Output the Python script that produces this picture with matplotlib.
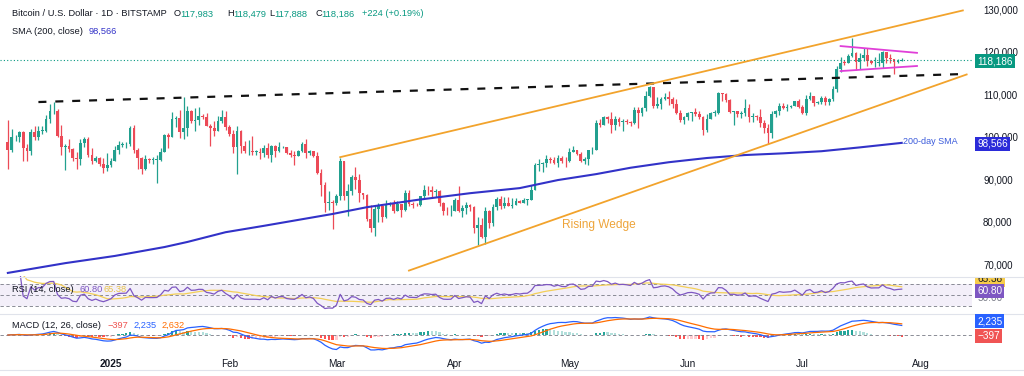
import numpy as np
import pandas as pd
import matplotlib
matplotlib.use("Agg")
import matplotlib.pyplot as plt
import matplotlib.dates as mdates
from matplotlib.lines import Line2D

plt.rcParams['font.family'] = ['Liberation Sans', 'DejaVu Sans']

# BTC/USD daily candles (Bitstamp), thousands of USD, 5 Dec 2024 .. 27 Jul 2025
dates = pd.date_range("2024-12-05", "2025-07-27", freq="D")
first_open_k = 98.8

close_k = [
    # Dec
    97.0, 99.9, 99.9, 101.2, 97.4, 96.6, 101.1, 100.0, 101.4, 101.4, 104.3, 106.0, 106.1, 100.2,
    97.5, 97.8, 97.2, 95.1, 94.7, 98.6, 99.4, 95.8, 94.2, 95.1, 93.6, 92.6, 93.4,
    # Jan
    94.4, 96.9, 98.1, 98.2, 98.3, 102.1, 96.9, 95.0, 92.5, 94.7, 94.5, 94.5, 94.6, 96.5, 100.5,
    99.9, 104.1, 104.4, 101.1, 102.0, 106.1, 103.7, 103.9, 104.8, 104.7, 102.6, 102.1, 101.3,
    103.7, 104.7, 102.4,
    # Feb
    100.6, 97.7, 101.4, 97.9, 96.6, 96.6, 96.5, 96.5, 96.2, 97.4, 95.7, 97.9, 96.6, 97.5, 97.6,
    96.1, 95.7, 95.5, 96.6, 98.3, 96.1, 96.6, 95.5, 91.4, 88.7, 84.4, 84.7, 84.4,
    # Mar
    86.0, 94.3, 86.1, 87.2, 90.6, 89.9, 86.8, 86.2, 80.7, 78.5, 82.9, 83.7, 81.1, 84.0, 84.3,
    82.6, 84.1, 82.7, 86.8, 84.2, 84.0, 83.8, 86.1, 87.5, 87.4, 86.9, 87.2, 84.3, 82.6, 82.4, 82.5,
    # Apr
    85.2, 82.5, 83.1, 83.8, 83.5, 78.4, 79.2, 76.3, 82.6, 79.6, 83.4, 85.3, 83.7, 84.5, 83.7,
    84.0, 84.9, 84.5, 85.1, 85.2, 87.5, 93.4, 93.7, 93.9, 94.7, 94.6, 93.8, 95.0, 94.3, 94.2,
    # May
    96.5, 96.9, 95.9, 94.3, 94.7, 96.8, 97.0, 103.2, 102.9, 104.6, 104.1, 102.8, 104.2, 103.5,
    103.7, 103.5, 103.2, 106.4, 105.5, 106.8, 109.7, 111.7, 107.3, 107.8, 109.0, 109.4, 108.9,
    107.8, 105.6, 103.9, 104.6,
    # Jun
    105.6, 105.8, 105.4, 104.7, 101.5, 104.3, 105.6, 105.7, 110.3, 110.2, 108.7, 105.9, 106.0,
    105.4, 105.5, 106.8, 104.6, 104.9, 104.7, 103.3, 102.1, 100.9, 105.4, 106.0, 107.3, 106.9,
    107.1, 107.3, 108.4, 107.1,
    # Jul
    105.7, 108.8, 109.6, 107.9, 108.2, 109.2, 108.2, 108.9, 111.3, 115.9, 117.5, 117.4, 119.1,
    119.8, 117.7, 118.7, 119.3, 117.9, 117.3, 117.4, 117.4, 120.0, 118.7, 118.3, 117.6, 117.983,
    118.186,
]
high_k = [
    103.9, 101.9, 100.5, 101.4, 101.3, 98.2, 101.9, 102.5, 102.6, 102.6, 105.2, 107.8, 108.3, 106.5,
    102.8, 98.2, 99.5, 97.3, 96.4, 99.4, 99.9, 99.9, 97.3, 95.5, 95.2, 94.9, 96.1,
    94.9, 97.8, 98.9, 98.7, 98.8, 102.5, 102.7, 97.3, 95.3, 95.8, 95.0, 95.3, 95.8, 97.4, 100.7,
    100.8, 105.9, 104.9, 106.3, 109.3, 107.2, 106.3, 106.8, 107.1, 105.3, 105.5, 103.1, 103.8,
    104.8, 106.4, 106.0,
    102.8, 101.5, 102.5, 101.7, 99.0, 99.2, 100.1, 96.8, 97.3, 98.0, 98.5, 98.1, 98.0, 98.8, 97.9,
    97.7, 97.0, 96.7, 96.9, 98.8, 99.5, 96.9, 96.5, 96.5, 92.5, 89.3, 87.1, 85.1,
    86.6, 95.0, 94.4, 88.9, 91.0, 92.8, 91.2, 86.8, 86.5, 83.9, 83.6, 84.3, 84.0, 85.2, 84.6,
    85.0, 84.8, 84.0, 87.4, 87.4, 84.7, 84.5, 86.1, 88.7, 88.5, 88.3, 87.8, 87.5, 84.6, 83.5, 83.9,
    85.5, 88.5, 83.9, 84.7, 84.2, 83.7, 81.2, 80.8, 83.5, 82.7, 84.2, 85.9, 86.0, 85.8, 85.9,
    85.5, 85.5, 85.1, 85.6, 85.3, 88.6, 93.9, 94.7, 94.0, 95.8, 95.3, 95.3, 95.6, 95.5, 95.2,
    97.4, 97.9, 96.9, 96.3, 95.2, 96.9, 97.7, 104.0, 104.3, 104.9, 104.9, 105.8, 105.0, 104.6,
    104.2, 104.1, 103.7, 107.1, 107.0, 107.1, 110.8, 111.9, 111.8, 109.5, 109.3, 110.4, 110.7,
    109.3, 108.9, 106.3, 104.9,
    105.9, 105.9, 106.8, 106.0, 105.0, 105.3, 105.9, 106.4, 110.6, 110.4, 110.4, 108.8, 106.2,
    106.1, 106.0, 108.9, 107.7, 105.5, 105.2, 106.5, 103.9, 103.1, 106.0, 106.3, 108.0, 108.0,
    107.8, 107.5, 108.5, 108.8,
    107.5, 109.8, 110.5, 109.7, 108.4, 109.7, 109.7, 109.2, 111.9, 116.8, 118.9, 118.0, 119.5,
    123.2, 119.9, 119.8, 120.9, 120.9, 118.1, 118.9, 119.7, 120.2, 120.1, 119.5, 118.4, 118.3,
    118.479,
]
low_k = [
    92.5, 96.4, 99.0, 98.8, 94.2, 94.3, 95.7, 99.3, 99.2, 100.6, 101.2, 103.3, 105.3, 100.0,
    95.6, 92.2, 96.4, 94.2, 92.4, 93.4, 97.6, 95.2, 93.5, 94.1, 93.0, 91.5, 92.0,
    92.8, 94.4, 96.0, 97.5, 97.3, 97.9, 96.2, 92.5, 91.2, 92.2, 93.8, 93.7, 89.2, 94.3, 96.5,
    97.3, 100.0, 102.3, 99.6, 99.5, 100.1, 103.3, 101.3, 102.8, 104.1, 102.5, 97.8, 100.3,
    101.3, 103.3, 101.6,
    100.3, 96.2, 91.2, 96.2, 96.2, 95.7, 95.7, 95.7, 94.7, 95.3, 94.9, 94.1, 95.2, 96.3, 97.3,
    96.0, 95.2, 93.4, 95.4, 96.4, 94.9, 95.8, 95.2, 91.2, 86.1, 82.3, 82.8, 78.3,
    83.9, 85.1, 85.1, 81.4, 86.3, 87.8, 84.7, 85.3, 80.1, 77.5, 76.6, 79.9, 79.9, 80.8, 83.6,
    82.0, 82.5, 81.2, 82.6, 83.7, 83.2, 83.7, 83.7, 85.6, 86.3, 85.9, 85.8, 83.6, 81.6, 81.6, 81.3,
    82.4, 82.3, 81.2, 81.7, 82.4, 77.2, 74.5, 76.2, 74.6, 78.5, 78.9, 82.8, 82.9, 83.3, 83.6,
    83.1, 83.9, 84.3, 84.5, 83.9, 85.1, 87.5, 91.9, 91.7, 92.9, 93.9, 93.6, 92.9, 93.8, 92.9,
    94.1, 96.3, 95.7, 94.1, 93.5, 93.4, 95.9, 97.0, 102.3, 102.8, 103.3, 100.8, 101.5, 102.5,
    101.4, 103.1, 102.6, 103.1, 102.1, 104.8, 106.1, 109.3, 106.8, 106.9, 106.6, 108.7, 107.6,
    106.8, 105.3, 103.6, 103.1,
    103.9, 103.7, 104.9, 104.2, 100.4, 101.1, 104.2, 104.9, 105.3, 108.4, 108.1, 105.6, 102.7,
    104.6, 104.5, 105.0, 103.4, 103.6, 103.9, 102.4, 100.8, 98.2, 99.6, 104.6, 105.2, 106.6,
    106.1, 106.8, 107.2, 106.8,
    105.3, 105.1, 108.6, 107.3, 107.8, 107.8, 107.5, 107.4, 108.4, 110.6, 115.2, 116.9, 117.3,
    118.9, 115.8, 115.9, 117.9, 116.8, 117.2, 116.5, 116.6, 116.2, 117.3, 117.3, 114.7, 117.4,
    117.888,
]

# 200-day SMA
sma_dates = ["2024-12-05", "2024-12-20", "2025-01-02", "2025-01-15", "2025-01-21", "2025-01-31",
             "2025-02-10", "2025-02-19", "2025-02-28", "2025-03-09", "2025-03-22", "2025-04-05",
             "2025-04-18", "2025-04-28", "2025-05-08", "2025-05-17", "2025-05-27", "2025-06-06",
             "2025-06-16", "2025-06-26", "2025-07-06", "2025-07-16", "2025-07-27"]
sma_k = [67.9, 70.2, 71.9, 74.0, 75.2, 77.5, 79.0, 80.4, 81.8, 83.4, 85.1, 86.7,
         87.9, 89.8, 91.2, 92.7, 94.0, 95.0, 95.7, 96.1, 96.6, 97.5, 98.566]

# drawn trend lines: (start date, price), (end date, price)
neckline = [("2024-12-13", 108200), ("2025-08-12", 114800)]
wedge_top = [("2025-03-02", 95200), ("2025-08-12", 129800)]
wedge_bottom = [("2025-03-20", 68450), ("2025-08-13", 114700)]
flag_top = [("2025-07-11", 121400), ("2025-07-31", 119800)]
flag_bottom = [("2025-07-11", 115500), ("2025-07-31", 116700)]

month_ticks = ["2025-01-01", "2025-02-01", "2025-03-01", "2025-04-01",
               "2025-05-01", "2025-06-01", "2025-07-01", "2025-08-01"]
month_labels = ["2025", "Feb", "Mar", "Apr", "May", "Jun", "Jul", "Aug"]

close = np.array(close_k) * 1000
high = np.array(high_k) * 1000
low = np.array(low_k) * 1000
# 24/7 market: each open is the previous close
opn = np.concatenate([[first_open_k * 1000], close[:-1]])
x = mdates.date2num(dates)

UP, DOWN = "#22a08f", "#ec4a57"
W, H = 1024, 376


def fx(px):
    return px / W


def fy(py):
    return 1 - py / H


fig = plt.figure(figsize=(W / 100, H / 100), dpi=100)
ax = fig.add_axes([0, fy(276), fx(972), 276 / H])
ax_rsi = fig.add_axes([0, fy(313), fx(972), 37 / H])
ax_macd = fig.add_axes([0, fy(356), fx(972), 42 / H])

base = mdates.date2num(pd.Timestamp("2025-01-01"))
xmin, xmax = base - 29.06, base + 225.4
for a in (ax, ax_rsi, ax_macd):
    a.set_xlim(xmin, xmax)
    for s in a.spines.values():
        s.set_visible(False)
    a.tick_params(length=0)
    a.set_xticks([])
    a.set_yticks([])

# ---- candles
up = close >= opn
col = np.where(up, UP, DOWN)
ax.vlines(x, low, high, colors=col, lw=0.9)
body = np.maximum(np.abs(close - opn), 150)
ax.bar(x, body, bottom=np.minimum(opn, close), width=0.72, color=col, linewidth=0)

ax.plot(mdates.date2num(pd.to_datetime(sma_dates)), np.array(sma_k) * 1000,
        color="#3232c8", lw=1.5, zorder=3)


def tline(a, pts, **kw):
    xs = mdates.date2num(pd.to_datetime([p[0] for p in pts]))
    a.plot(xs, [p[1] for p in pts], **kw)


tline(ax, neckline, color="#111111", lw=1.6, dashes=(3.6, 4), zorder=4)
tline(ax, wedge_top, color="#f2a32c", lw=1.3, zorder=4)
tline(ax, wedge_bottom, color="#f2a32c", lw=1.3, zorder=4)
tline(ax, flag_top, color="#e03fd8", lw=1.3, zorder=4)
tline(ax, flag_bottom, color="#e03fd8", lw=1.3, zorder=4)

ax.axhline(close[-1], color="#089981", lw=0.8, ls=(0, (1, 2)))
ax.text(mdates.date2num(pd.Timestamp("2025-05-08 17:00")), 79200, "Rising Wedge",
        color="#eea43a", fontsize=8.6, ha="center", va="center")
ax.text(x[-1] + 0.3, sma_k[-1] * 1000 + 300, "200-day SMA", color="#3b5bdb",
        fontsize=6.5, ha="left", va="center")

ax.set_ylim(67170, 132264)
ax.yaxis.tick_right()
ticks = list(range(70000, 130001, 10000))
ax.set_yticks(ticks)
ax.set_yticklabels([f"{t:,}" for t in ticks], fontsize=7, color="#131722")
ax.tick_params(axis="y", length=0, pad=8)

# ---- RSI 14
delta = pd.Series(close).diff()
gain = delta.clip(lower=0).ewm(alpha=1 / 14, adjust=True).mean()
loss = (-delta.clip(upper=0)).ewm(alpha=1 / 14, adjust=True).mean()
rsi = 100 - 100 / (1 + gain / loss)
rsi_ma = rsi.rolling(14, min_periods=1).mean()
ax_rsi.axhspan(30, 70, color="#7e57c2", alpha=0.09, lw=0)
for lvl in (30, 50, 70):
    ax_rsi.axhline(lvl, color="#787b86", lw=0.6, dashes=(4, 3))
ax_rsi.plot(x, rsi_ma, color="#f3cf57", lw=0.9)
ax_rsi.plot(x, rsi, color="#7e57c2", lw=0.9)
ax_rsi.set_ylim(16.7, 85.2)

# ---- MACD 12 26 9
cs = pd.Series(close)
macd = cs.ewm(span=12, adjust=True).mean() - cs.ewm(span=26, adjust=True).mean()
signal = macd.ewm(span=9, adjust=True).mean()
hist = (macd - signal).values
prev = np.concatenate([[hist[0]], hist[:-1]])
hcol = np.where(hist >= 0, np.where(hist >= prev, "#26a69a", "#b2dfdb"),
                np.where(hist < prev, "#ff5252", "#ffcdd2"))
ax_macd.axhline(0, color="#787b86", lw=0.6, dashes=(4, 3))
ax_macd.bar(x, hist, width=0.6, color=hcol, linewidth=0)
ax_macd.plot(x, macd, color="#2962ff", lw=0.9)
ax_macd.plot(x, signal, color="#ff6d00", lw=0.9)
mlim = max(np.abs(macd.values).max(), np.abs(signal.values).max()) * 21 / 18
ax_macd.set_ylim(-mlim, mlim)
ax_macd.set_xticks(mdates.date2num(pd.to_datetime(month_ticks)))
ax_macd.set_xticklabels(month_labels, fontsize=7.2, color="#131722")
ax_macd.get_xticklabels()[0].set_fontweight("bold")
ax_macd.tick_params(axis="x", length=0, pad=2)

# ---- separators
for py in (276.5, 313.5, 370):
    fig.add_artist(Line2D([0, 1], [fy(py)] * 2, transform=fig.transFigure,
                          color="#e0e3eb", lw=0.8))

# ---- legends / headers
TXT, GRN = "#131722", "#089981"
fs = 6.7


def t(px, py, s, c=TXT, **kw):
    fig.text(fx(px), fy(py), s, color=c, fontsize=kw.pop("size", fs), va="center", **kw)


t(12, 14, "Bitcoin / U.S. Dollar · 1D · BITSTAMP")
for lx, k, v in ((174, "O", "117,983"), (227, "H", "118,479"),
                 (269, "L", "117,888"), (315, "C", "118,186")):
    t(lx, 14, k)
    t(lx + (6.5 if k in "OHC" else 5.5), 14, v, GRN)
t(362, 14, "+224 (+0.19%)", GRN)
t(12, 31, "SMA (200, close)")
t(89, 31, "98,566", "#3232c8")

t(12, 289, "RSI (14, close)")
t(80, 289, "60.80", "#7e57c2")
t(103, 289, "65.38", "#e8c34a")
t(12, 325, "MACD (12, 26, close)")
t(107, 325, "\u2212397", "#ef5350")
t(134, 325, "2,235", "#2962ff")
t(162, 325, "2,632", "#ff6d00")


# ---- price scale boxes
def box(py, s, c, fc="white"):
    fig.text(fx(977), fy(py), s, color=fc, fontsize=7.2, va="center", ha="left",
             bbox=dict(boxstyle="square,pad=0.22", fc=c, ec="none"), zorder=5)


box(61, "118,186", "#089981")
box(144, "98,566", "#2b2bd9")
lab = fig.add_axes([fx(972), fy(313), fx(52), 36 / H])
lab.axis("off")
lab.set_xlim(0, 1)
lab.set_ylim(313, 277)
lab.text(0.1, 279.5, "65.38", color=TXT, fontsize=7.2, va="center", clip_on=True,
         bbox=dict(boxstyle="square,pad=0.22", fc="#f7cc4a", ec="none"))
lab.text(0.1, 298, "50.00", color="#787b86", fontsize=7.2, va="center")
box(291, "60.80", "#7e57c2")
box(321, "2,235", "#2962ff")
box(336, "\u2212397", "#f05454")

fig.savefig("out.png", dpi=100)
